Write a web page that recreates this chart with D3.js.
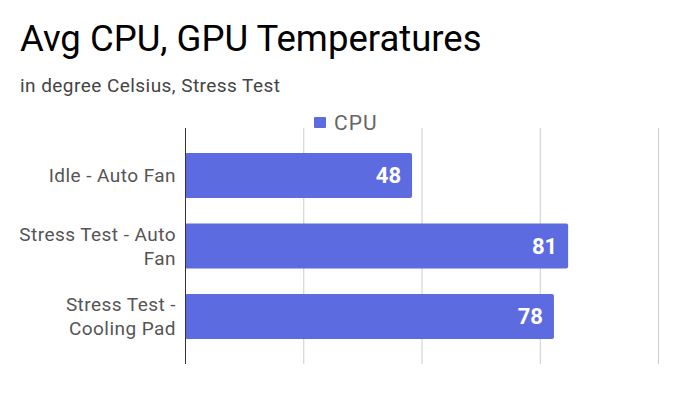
<!DOCTYPE html>
<html>
<head>
<meta charset="utf-8">
<script src="https://cdn.jsdelivr.net/npm/d3@7"></script>
<style>
  body { margin: 0; background: #fff; }
  text { font-family: Roboto, "Noto Sans", sans-serif; }
</style>
</head>
<body>
<div class="bar-chart"></div>
<script>
var categories = ["Idle - Auto Fan", "Stress Test - Auto Fan", "Stress Test - Cooling Pad"];
var cpuValues = [48, 81, 78];
var gridTicks = [0, 25, 50, 75, 100];
var seriesName = "CPU";

var width = 695, height = 396;
var margin = {top: 128, right: 37, bottom: 32, left: 185};

var svg = d3.select(".bar-chart").append("svg")
    .attr("width", width)
    .attr("height", height);

var x = d3.scaleLinear()
    .domain([0, 100])
    .range([margin.left, width - margin.right]);

var y = d3.scaleBand()
    .domain(categories)
    .range([margin.top, height - margin.bottom])
    .paddingInner(0.36)
    .paddingOuter(0.355);

// title + subtitle
svg.append("text")
    .attr("x", 20).attr("y", 51)
    .style("font-size", "36.5px")
    .style("fill", "#000")
    .text("Avg CPU, GPU Temperatures");

svg.append("text")
    .attr("x", 20).attr("y", 92)
    .style("font-size", "19px")
    .style("letter-spacing", "0.45px")
    .style("fill", "#444")
    .text("in degree Celsius, Stress Test");

// legend
svg.append("rect")
    .attr("x", 314).attr("y", 117)
    .attr("width", 12).attr("height", 11)
    .attr("rx", 1)
    .style("fill", "#5c6be0");
svg.append("text")
    .attr("x", 334).attr("y", 129.5)
    .style("font-size", "21px")
    .style("letter-spacing", "1px")
    .style("fill", "#666")
    .text(seriesName);

// grid lines
svg.append("g")
  .selectAll("line")
  .data(gridTicks.slice(1))
  .enter().append("line")
    .attr("x1", function(d) { return x(d) + 0.5; })
    .attr("x2", function(d) { return x(d) + 0.5; })
    .attr("y1", margin.top)
    .attr("y2", 364)
    .style("stroke", "#ccc")
    .style("stroke-width", 1);

// bars
var data = categories.map(function(c, i) { return {cat: c, value: cpuValues[i]}; });

svg.selectAll(".bar")
    .data(data)
  .enter().append("rect")
    .attr("class", "bar")
    .attr("x", x(0))
    .attr("y", function(d) { return y(d.cat); })
    .attr("width", function(d) { return x(d.value) - x(0); })
    .attr("height", y.bandwidth())
    .attr("rx", 2)
    .style("fill", "#5c6be0");

svg.selectAll(".val")
    .data(data)
  .enter().append("text")
    .attr("class", "val")
    .attr("x", function(d) { return x(d.value) - 11; })
    .attr("y", function(d) { return y(d.cat) + y.bandwidth() / 2 + 7.5; })
    .attr("text-anchor", "end")
    .style("font-size", "22px")
    .style("font-weight", "bold")
    .style("fill", "#fff")
    .text(function(d) { return d.value; });

// zero axis line
svg.append("line")
    .attr("x1", x(0) + 0.5).attr("x2", x(0) + 0.5)
    .attr("y1", margin.top).attr("y2", 364)
    .style("stroke", "#333")
    .style("stroke-width", 1);

// category labels, wrapped
var yAxis = svg.append("g")
    .attr("transform", "translate(" + (x(0) - 9) + ",0)")
    .call(d3.axisLeft(y).tickSize(0).tickPadding(0));
yAxis.select(".domain").remove();
yAxis.selectAll("text")
    .style("font-size", "19px")
    .style("letter-spacing", "0.45px")
    .style("fill", "#555")
    .style("font-family", "Roboto, sans-serif")
    .call(wrap, 165);

function wrap(sel, maxW) {
  sel.each(function() {
    var t = d3.select(this);
    var words = t.text().split(" ");
    t.text(null);
    var lines = [], line = [];
    var probe = t.append("tspan");
    words.forEach(function(w) {
      line.push(w);
      probe.text(line.join(" "));
      if (probe.node().getComputedTextLength() > maxW && line.length > 1) {
        line.pop();
        lines.push(line.join(" "));
        line = [w];
      }
    });
    lines.push(line.join(" "));
    probe.remove();
    var lh = 24;
    var start = -(lines.length - 1) * lh / 2;
    t.attr("dy", null);
    lines.forEach(function(l, i) {
      t.append("tspan")
        .attr("x", 0)
        .attr("y", start + i * lh)
        .attr("dy", "0.36em")
        .text(l);
    });
  });
}
</script>
</body>
</html>
